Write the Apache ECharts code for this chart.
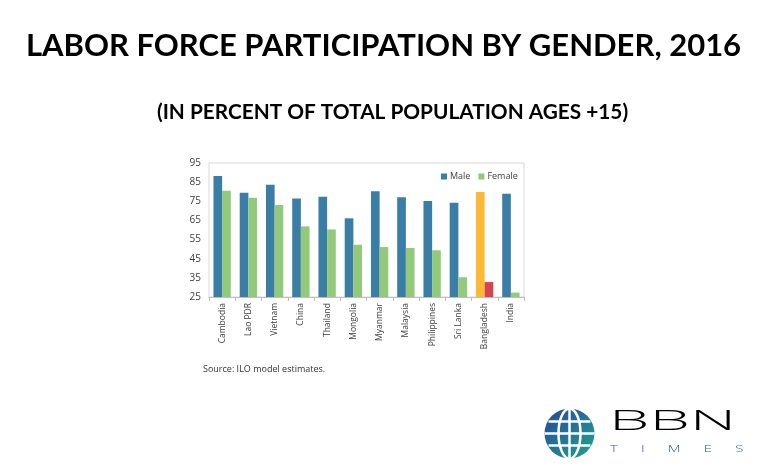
<!DOCTYPE html>
<html><head><meta charset="utf-8">
<script src="https://cdn.jsdelivr.net/npm/echarts@6/dist/echarts.min.js"></script>
<style>html,body{margin:0;padding:0;background:#fff}#c{width:767px;height:475px}</style>
</head><body><div id="c"></div>
<script>
const categories = ['Cambodia','Lao PDR','Vietnam','China','Thailand','Mongolia','Myanmar','Malaysia','Philippines','Sri Lanka','Bangladesh','India'];
const maleValues = [88.2, 79.5, 83.7, 76.4, 77.4, 66.1, 80.2, 77.1, 75.1, 74.3, 79.9, 79.0];
const femaleValues = [80.5, 76.9, 73.1, 61.9, 60.3, 52.3, 51.1, 50.6, 49.4, 35.3, 32.8, 27.3];
const yTicks = [25, 35, 45, 55, 65, 75, 85, 95];
const highlight = 'Bangladesh';

const MALE = '#3a7ea6', FEMALE = '#93c97a', HMALE = '#fdb933', HFEMALE = '#d9434f';
const chart = echarts.init(document.getElementById('c'));
const maleData = maleValues.map((v, i) => categories[i] === highlight ? {value: v, itemStyle: {color: HMALE}} : v);
const femaleData = femaleValues.map((v, i) => categories[i] === highlight ? {value: v, itemStyle: {color: HFEMALE}} : v);

chart.setOption({
  backgroundColor: '#fff',
  animation: false,
  title: [
    {text: 'LABOR FORCE PARTICIPATION BY GENDER, 2016', left: 'center', top: 25,
     textStyle: {fontFamily: 'Lato', fontWeight: 'bold', fontSize: 31, color: '#000'}},
    {text: '(IN PERCENT OF TOTAL POPULATION AGES +15)', left: 152, top: 97,
     textStyle: {fontFamily: 'Lato', fontWeight: 'bold', fontSize: 20.8, color: '#000'}}
  ],
  legend: {
    data: [{name: 'Male', itemStyle: {color: MALE}}, {name: 'Female', itemStyle: {color: FEMALE}}],
    left: 436, top: 167, itemWidth: 6, itemHeight: 6, itemGap: 8, icon: 'rect',
    textStyle: {fontFamily: 'Open Sans', fontSize: 9, color: '#404040', padding: [0, 0, 0, -2]}
  },
  grid: {left: 209, top: 163, right: 243, bottom: 178, show: true, borderColor: '#d9d9d9', borderWidth: 1, containLabel: false},
  xAxis: {
    type: 'category', data: categories,
    axisLine: {lineStyle: {color: '#bfbfbf'}},
    axisTick: {show: true, alignWithLabel: false, length: 4, lineStyle: {color: '#bfbfbf'}},
    axisLabel: {rotate: 90, interval: 0, margin: 6, fontFamily: 'Open Sans', fontSize: 8.5, color: '#404040'}
  },
  yAxis: {
    type: 'value', min: yTicks[0], max: yTicks[yTicks.length - 1], interval: 10,
    axisLine: {show: false}, axisTick: {show: false}, splitLine: {show: false},
    axisLabel: {fontFamily: 'Open Sans', fontSize: 10, color: '#404040', margin: 8}
  },
  series: [
    {name: 'Male', type: 'bar', data: maleData, itemStyle: {color: MALE}, barGap: '0%', barCategoryGap: '34%'},
    {name: 'Female', type: 'bar', data: femaleData, itemStyle: {color: FEMALE}}
  ],
  graphic: [
    {type: 'text', left: 203, top: 365, style: {text: 'Source: ILO model estimates.', font: '9px "Open Sans"', fill: '#333'}},
    {type: 'group', left: 542, top: 406, children: [
      {type: 'circle', shape: {cx: 25, cy: 25, r: 25}, style: {fill: new echarts.graphic.LinearGradient(0, 0, 1, 1, [{offset: 0, color: '#27469b'}, {offset: 1, color: '#23a48c'}])}},
      {type: 'ellipse', shape: {cx: 25, cy: 25, rx: 11, ry: 25}, style: {fill: 'none', stroke: '#fff', lineWidth: 2.5}},
      {type: 'line', shape: {x1: 25, y1: 0, x2: 25, y2: 50}, style: {stroke: '#fff', lineWidth: 2.5}},
      {type: 'line', shape: {x1: 0, y1: 25, x2: 50, y2: 25}, style: {stroke: '#fff', lineWidth: 2.5}},
      {type: 'line', shape: {x1: 4, y1: 13, x2: 46, y2: 13}, style: {stroke: '#fff', lineWidth: 2.5}},
      {type: 'line', shape: {x1: 4, y1: 37, x2: 46, y2: 37}, style: {stroke: '#fff', lineWidth: 2.5}}
    ]},
    {type: 'text', x: 609, y: 408, scaleX: 2.3, style: {text: 'BBN', font: '300 28px "Open Sans"', letterSpacing: 6,
      fill: new echarts.graphic.LinearGradient(0, 0, 1, 0, [{offset: 0, color: '#2a3a95'}, {offset: 1, color: '#2aa58e'}])}},
    {type: 'text', x: 610, y: 445, scaleX: 1.65, style: {text: 'T      I      M      E      S', font: '300 9px "Open Sans"', fill: '#2f5f9a'}}
  ]
});
</script></body></html>
